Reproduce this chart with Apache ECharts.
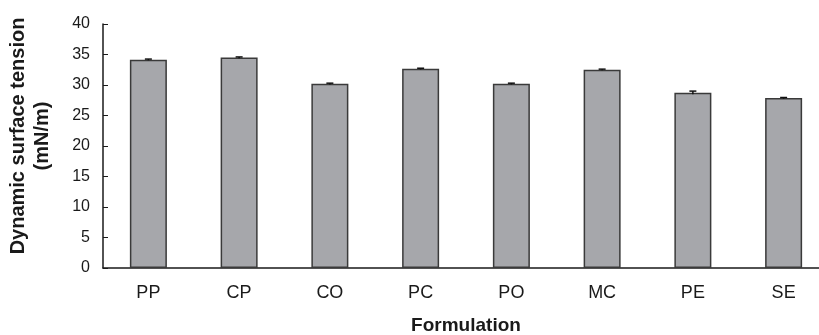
<!DOCTYPE html>
<html>
<head>
<meta charset="utf-8">
<script src="https://cdn.jsdelivr.net/npm/echarts@6/dist/echarts.min.js"></script>
<style>
  html, body { margin: 0; padding: 0; background: #fff; }
  #main { width: 819px; height: 335px; }
</style>
</head>
<body>
<div id="main"></div>
<script>
// data
var categories = ['PP', 'CP', 'CO', 'PC', 'PO', 'MC', 'PE', 'SE'];
var values = [34.15, 34.5, 30.2, 32.65, 30.2, 32.5, 28.75, 27.85];
var errors = [0.1, 0.1, 0.1, 0.1, 0.1, 0.1, 0.25, 0.1];
var yTicks = [0, 40, 5];

var chart = echarts.init(document.getElementById('main'));

var errData = [];
for (var i = 0; i < categories.length; i++) {
  errData.push([i, values[i] - errors[i], values[i] + errors[i]]);
}

var option = {
  animation: false,
  textStyle: { fontFamily: 'Liberation Sans' },
  grid: { left: 103, top: 24, bottom: 67, right: -10, outerBoundsMode: 'none', containLabel: false },
  xAxis: {
    type: 'category',
    data: categories,
    name: 'Formulation',
    nameLocation: 'middle',
    nameGap: 48,
    nameTextStyle: { fontWeight: 'bold', fontSize: 19, color: '#1a1a1a' },
    axisLine: { lineStyle: { color: '#1a1a1a', width: 1.5 } },
    axisTick: { inside: true, length: 5, lineStyle: { color: '#1a1a1a' } },
    axisLabel: { fontSize: 18, color: '#1a1a1a', margin: 16 }
  },
  yAxis: {
    type: 'value',
    min: yTicks[0],
    max: yTicks[1],
    interval: yTicks[2],
    name: 'Dynamic surface tension\n(mN/m)',
    nameLocation: 'middle',
    nameGap: 49,
    nameRotate: 90,
    nameTextStyle: { fontWeight: 'bold', fontSize: 20, color: '#1a1a1a', lineHeight: 24, padding: [0, 0, 0, 20] },
    axisLine: { show: true, lineStyle: { color: '#1a1a1a', width: 1.5 } },
    axisTick: { show: true, inside: true, length: 5, lineStyle: { color: '#1a1a1a' } },
    axisLabel: { fontSize: 16, color: '#1a1a1a', margin: 13 },
    splitLine: { show: false }
  },
  series: [{
    type: 'bar',
    data: values,
    barWidth: 37,
    itemStyle: { color: '#a6a7ab', borderColor: '#3a3a3a', borderWidth: 1.5 }
  }, {
    type: 'custom',
    data: errData,
    z: 10,
    renderItem: function (params, api) {
      var x = api.value(0);
      var lo = api.coord([x, api.value(1)]);
      var hi = api.coord([x, api.value(2)]);
      var w = 3.5;
      var st = { stroke: '#111', lineWidth: 1.5 };
      return {
        type: 'group',
        children: [
          { type: 'line', shape: { x1: hi[0], y1: hi[1], x2: lo[0], y2: lo[1] }, style: st },
          { type: 'line', shape: { x1: hi[0] - w, y1: hi[1], x2: hi[0] + w, y2: hi[1] }, style: st }
        ]
      };
    }
  }]
};

chart.setOption(option);
</script>
</body>
</html>
